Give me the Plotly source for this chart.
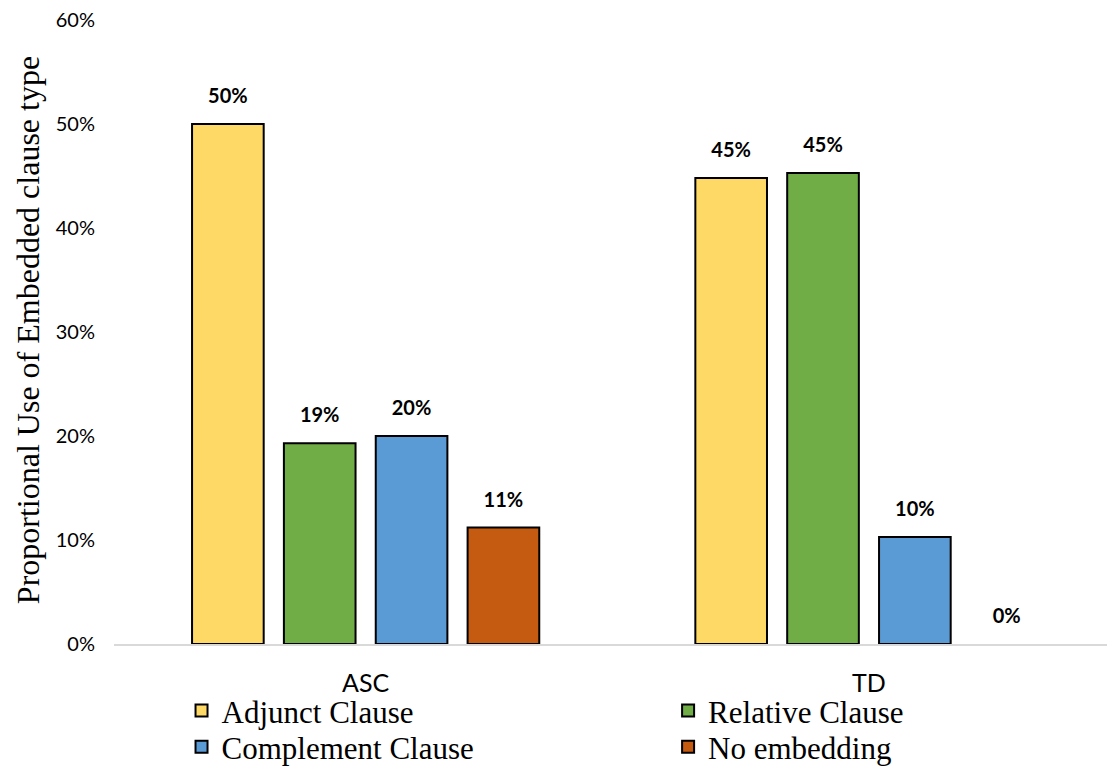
import plotly.graph_objects as go

groups = ["ASC", "TD"]
series_names = ["Adjunct Clause", "Relative Clause", "Complement Clause", "No embedding"]
adjunct = [0.50, 0.448]
relative = [0.193, 0.453]
complement = [0.20, 0.103]
no_embedding = [0.112, 0.0]
colors = ["#FFD966", "#70AD47", "#5B9BD5", "#C55A11"]
legend_ids = ["legend", "legend2", "legend3", "legend4"]
y_ticks = [0, 0.1, 0.2, 0.3, 0.4, 0.5, 0.6]

fig = go.Figure()
all_vals = [adjunct, relative, complement, no_embedding]
for i, (name, vals, col, lg) in enumerate(zip(series_names, all_vals, colors, legend_ids)):
    fig.add_trace(go.Bar(
        x=groups, y=vals, name=name, legend=lg,
        offsetgroup=str(i),
        marker=dict(color=col, line=dict(color="black", width=[2 if v > 0 else 0 for v in vals])),
    ))
for i, vals in enumerate(all_vals):
    fig.add_trace(go.Scatter(
        x=groups, y=vals, mode="markers+text", showlegend=False,
        offsetgroup=str(i),
        marker=dict(size=24, opacity=0),
        text=[f"<b>{v:.0%}</b>" for v in vals],
        textposition="top center",
        textfont=dict(family="Lato", size=20, color="black"),
        cliponaxis=False, hoverinfo="skip",
    ))

legend_common = dict(
    orientation="v", yanchor="top", xanchor="left",
    font=dict(family="Liberation Serif", size=31, color="black"),
    bgcolor="rgba(0,0,0,0)", itemclick=False, traceorder="normal",
)
col1, col2 = 0.068, 0.558
row1, row2 = -0.064, -0.122

fig.update_layout(
    width=1107, height=768,
    margin=dict(l=114, r=0, t=20, b=124, autoexpand=False),
    paper_bgcolor="white", plot_bgcolor="white",
    barmode="group", bargap=0.27, bargroupgap=0.22,
    scattermode="group", scattergap=0.27,
    showlegend=True,
    legend=dict(x=col1, y=row1, **legend_common),
    legend2=dict(x=col2, y=row1, **legend_common),
    legend3=dict(x=col1, y=row2, **legend_common),
    legend4=dict(x=col2, y=row2, **legend_common),
    xaxis=dict(
        range=[-0.5, 1.473], showgrid=False, showline=True, linecolor="#D9D9D9", linewidth=1.5,
        ticks="", tickfont=dict(family="Lato", size=25, color="black"), ticklabelstandoff=16,
    ),
    yaxis=dict(
        range=[0, 0.6], tickvals=y_ticks, tickformat=".0%", showgrid=False, showline=False,
        zeroline=False, ticks="", tickfont=dict(family="Lato", size=20, color="black"),
        ticklabelstandoff=18,
    ),
    annotations=[dict(
        text="Proportional Use of Embedded clause type", textangle=-90,
        xref="paper", yref="paper", x=(28 - 114) / 993, y=0.503,
        xanchor="center", yanchor="middle", showarrow=False,
        font=dict(family="Liberation Serif", size=32, color="black"),
    )],
)

fig.write_html("out.html")
